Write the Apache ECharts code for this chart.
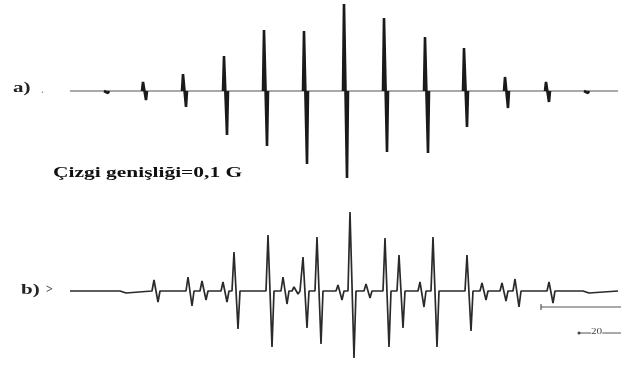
<!DOCTYPE html>
<html>
<head>
<meta charset="utf-8">
<script src="https://cdn.jsdelivr.net/npm/echarts@6/dist/echarts.min.js"></script>
<style>
  html, body {margin: 0; padding: 0; background: #fff;}
  #chart {width: 621px; height: 365px;}
</style>
</head>
<body>
<div id="chart"></div>
<script>
// field position of each hyperfine line and its derivative amplitude (up / down)
// spectrum a) simulated with 0.1 G line width
const aRange = [70, 618]
const aCenter = [105, 143, 183, 224, 264, 304, 344, 384, 425, 464, 505, 546, 585]
const aUp = [2, 9, 17, 35, 61, 60, 87, 73, 54, 43, 14, 9, 2]
const aDown = [2, 9, 16, 44, 55, 73, 87, 61, 62, 36, 17, 11, 2]

// spectrum b) experimental
const bRange = [70, 618]
const bCenter = [122, 154, 188, 202, 223, 234, 268, 283, 294, 303, 317, 338, 350, 366, 385, 399, 420, 433, 467, 482, 502, 515, 549, 585]
const bUp = [1, 11, 14, 10, 9, 39, 56, 14, 4, 34, 54, 6, 79, 7, 53, 36, 9, 54, 36, 8, 8, 12, 9, 1]
const bDown = [2, 11, 15, 9, 11, 38, 56, 13, 3, 37, 53, 9, 67, 7, 56, 37, 16, 56, 40, 9, 10, 16, 12, 2]

// baseline -> max -> min -> baseline for each line; gaps=true leaves the baseline out
function trace(range, center, up, down, w, gaps) {
  const pts = gaps ? [] : [[range[0], 0]]
  center.forEach((c, i) => {
    pts.push([c - w[0], 0], [c, up[i]], [c + w[1], -down[i]], [c + w[2], 0])
    if (gaps) pts.push([c + w[2], null])
  })
  if (!gaps) pts.push([range[1], 0])
  return pts
}

const chart = echarts.init(document.getElementById('chart'))
const serif = '"Liberation Serif", "DejaVu Serif", serif'

chart.setOption({
  animation: false,
  grid: [
    {left: 0, right: 0, top: 0, height: 182},
    {left: 0, right: 0, top: 205, height: 160}
  ],
  xAxis: [
    {gridIndex: 0, type: 'value', min: 0, max: 621, show: false},
    {gridIndex: 1, type: 'value', min: 0, max: 621, show: false}
  ],
  yAxis: [
    {gridIndex: 0, type: 'value', min: -91, max: 91, show: false},
    {gridIndex: 1, type: 'value', min: -74, max: 86, show: false}
  ],
  series: [
    {
      name: 'a baseline',
      type: 'line',
      xAxisIndex: 0, yAxisIndex: 0,
      data: [[aRange[0], 0], [aRange[1], 0]],
      showSymbol: false,
      lineStyle: {color: '#555', width: 1.2}
    },
    {
      name: 'a',
      type: 'line',
      xAxisIndex: 0, yAxisIndex: 0,
      data: trace(aRange, aCenter, aUp, aDown, [1, 3, 4], true),
      showSymbol: false,
      connectNulls: false,
      lineStyle: {color: '#1a1a1a', width: 2.6}
    },
    {
      name: 'b',
      type: 'line',
      xAxisIndex: 1, yAxisIndex: 1,
      data: trace(bRange, bCenter, bUp, bDown, [2, 4, 6], false),
      showSymbol: false,
      lineStyle: {color: '#2a2a2a', width: 1.7}
    }
  ],
  graphic: [
    {type: 'text', left: 13, top: 81, scaleX: 1.4, style: {text: 'a)', font: 'bold 15px ' + serif, fill: '#222'}},
    {type: 'text', left: 41, top: 84, style: {text: '.', font: '12px ' + serif, fill: '#888'}},
    {type: 'text', left: 53, top: 166, scaleX: 1.43, style: {text: 'Çizgi genişliği=0,1 G', font: 'bold 15px ' + serif, fill: '#111'}},
    {type: 'text', left: 21, top: 283, scaleX: 1.4, style: {text: 'b)', font: 'bold 15px ' + serif, fill: '#222'}},
    {type: 'text', left: 46, top: 284, style: {text: '>', font: 'bold 12px ' + serif, fill: '#444'}},
    {type: 'line', shape: {x1: 541, y1: 307, x2: 621, y2: 307}, style: {stroke: '#555', lineWidth: 1.2}},
    {type: 'line', shape: {x1: 541, y1: 304, x2: 541, y2: 310}, style: {stroke: '#555', lineWidth: 1.2}},
    {type: 'line', shape: {x1: 579, y1: 333, x2: 621, y2: 333}, style: {stroke: '#555', lineWidth: 1}},
    {type: 'circle', shape: {cx: 579, cy: 333, r: 1.5}, style: {fill: '#444'}},
    {type: 'text', left: 591, top: 328, scaleX: 1.4, style: {text: '20', font: '8px ' + serif, fill: '#444', backgroundColor: '#fff'}}
  ]
})
</script>
</body>
</html>
